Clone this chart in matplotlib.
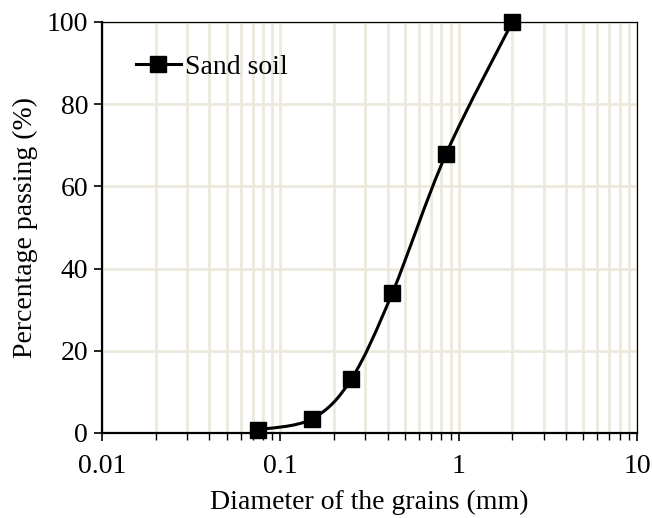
import numpy as np
import matplotlib
matplotlib.use("Agg")
import matplotlib.pyplot as plt
from matplotlib.path import Path
from matplotlib.patches import PathPatch
from matplotlib.lines import Line2D
from matplotlib.ticker import LogLocator, NullFormatter, FixedLocator
import matplotlib.transforms as mtransforms

# grain size distribution
diameter = [0.075, 0.15, 0.25, 0.425, 0.85, 2.0]
passing = [0.8, 3.4, 13.1, 34.1, 67.9, 100.0]
series_name = "Sand soil"

plt.rcParams['font.family'] = ['Liberation Serif', 'DejaVu Serif']

fig = plt.figure(figsize=(6.52, 5.18), dpi=100)
ax = fig.add_axes([102 / 652, 1 - 433 / 518, 535 / 652, 411 / 518])

ax.set_xscale('log')
ax.set_xlim(0.01, 10)
ax.set_ylim(0, 100)

grid_col = '#EDE9DD'
ax.xaxis.set_minor_locator(LogLocator(base=10, subs=np.arange(2, 10), numticks=100))
ax.xaxis.set_minor_formatter(NullFormatter())
ax.set_xticks([0.01, 0.1, 1, 10])
ax.set_xticklabels(['0.01', '0.1', '1', '10'])
ax.yaxis.set_major_locator(FixedLocator([0, 20, 40, 60, 80, 100]))
ax.grid(True, which='both', axis='x', color=grid_col, lw=2.0, zorder=0)
ax.grid(True, which='major', axis='y', color=grid_col, lw=2.0, zorder=0)
ax.set_axisbelow(True)

ax.tick_params(axis='both', which='major', direction='out', length=6, width=1.2,
               labelsize=20, colors='black')
ax.tick_params(axis='x', which='minor', direction='out', length=5, width=1.0)
ax.tick_params(axis='x', which='major', pad=9)
ax.tick_params(axis='y', which='major', pad=4)

for side in ['left', 'bottom']:
    ax.spines[side].set_linewidth(1.6)
for side in ['top', 'right']:
    ax.spines[side].set_linewidth(0.9)

ax.set_xlabel('Diameter of the grains (mm)', fontsize=20, labelpad=8)
ax.set_ylabel('Percentage passing (%)', fontsize=20, labelpad=6)

# smoothed curve through the points (cardinal spline drawn as bezier segments)
W, H = 535.0, 411.0
u = (np.log10(diameter) + 2) / 3 * W
v = np.array(passing) / 100 * H
pts = np.column_stack([u, v])
n = len(pts)
verts = [pts[0]]
codes = [Path.MOVETO]
t = 1 / 6
for i in range(n - 1):
    p0 = pts[i - 1] if i > 0 else pts[i]
    p1 = pts[i]
    p2 = pts[i + 1]
    p3 = pts[i + 2] if i + 2 < n else pts[i + 1]
    c1 = p1 + (p2 - p0) * t
    c2 = p2 - (p3 - p1) * t
    verts += [c1, c2, p2]
    codes += [Path.CURVE4] * 3
tr = mtransforms.Affine2D().scale(1 / W, 1 / H) + ax.transAxes
curve = PathPatch(Path(verts, codes), facecolor='none', edgecolor='black',
                  lw=2.2, transform=tr, zorder=3, clip_on=False)
ax.add_patch(curve)

ax.plot(diameter, passing, linestyle='none', marker='s', markersize=12,
        color='black', zorder=4, clip_on=False)

handle = Line2D([], [], color='black', lw=2.2, marker='s', markersize=12)
ax.legend([handle], [series_name], loc='upper left', bbox_to_anchor=(0.043, 0.948),
          frameon=False, fontsize=20, handlelength=1.6, handletextpad=0.15,
          borderaxespad=0)

fig.savefig('out.png', dpi=100)
